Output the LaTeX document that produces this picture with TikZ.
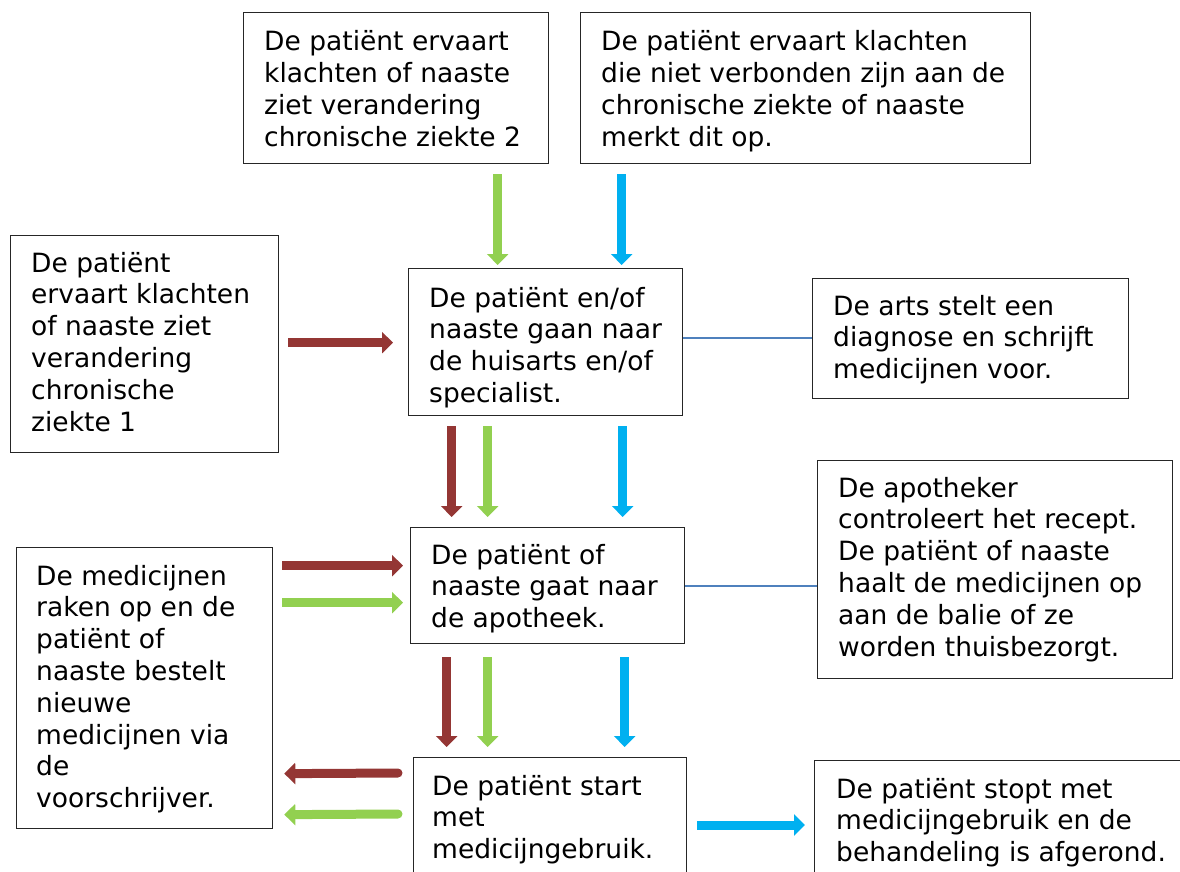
\documentclass[tikz,border=0pt]{standalone}
\usepackage{fontspec}
\setmainfont{DejaVu Sans}
\usetikzlibrary{arrows.meta,calc}
\definecolor{cred}{HTML}{943634}
\definecolor{cgreen}{HTML}{92D050}
\definecolor{cblue}{HTML}{00B0F0}
\definecolor{cline}{HTML}{4F81BD}
\newcommand\btxt[4]{\node[txt] (#1) at (#2,#3) {\parbox[t]{20cm}{\raggedright #4}};}
\begin{document}
\begin{tikzpicture}[x=1pt,y=-1pt,
  frame/.style={draw=black!85,line width=1.3pt,anchor=north west,inner sep=0,rectangle},
  txt/.style={anchor=base west,inner sep=0,font=\fontsize{26.5}{31.8}\selectfont},
  blk/.style={line width=9pt,-{Triangle[width=21pt,length=11pt]}},
  redarr/.style={blk,cred},
  grnarr/.style={blk,cgreen},
  bluarr/.style={blk,cblue},
  conn/.style={draw=cline,line width=2.2pt}]
\useasboundingbox (0,0) rectangle (1180,872);
\clip (0,0) rectangle (1180,872);
% boxes
\node[frame,minimum width=305pt,minimum height=151pt] (A) at (243,12) {};
\node[frame,minimum width=450pt,minimum height=151pt] (B) at (580,12) {};
\node[frame,minimum width=268pt,minimum height=217pt] (C) at (10,235) {};
\node[frame,minimum width=274pt,minimum height=147pt] (D) at (408,268) {};
\node[frame,minimum width=316pt,minimum height=120pt] (E) at (812,278) {};
\node[frame,minimum width=256pt,minimum height=281pt] (F) at (16,547) {};
\node[frame,minimum width=274pt,minimum height=116pt] (G) at (410,527) {};
\node[frame,minimum width=355pt,minimum height=218pt] (H) at (817,460) {};
\node[frame,minimum width=273pt,minimum height=143pt] (I) at (413,757) {};
\node[frame,minimum width=380pt,minimum height=140pt] (J) at (814,760) {};
% texts
\btxt{tA}{264}{51}{De patiënt ervaart\\klachten of naaste\\ziet verandering\\chronische ziekte 2}
\btxt{tB}{601}{51}{De patiënt ervaart klachten\\die niet verbonden zijn aan de\\chronische ziekte of naaste\\merkt dit op.}
\btxt{tC}{31}{272}{De patiënt\\ervaart klachten\\of naaste ziet\\verandering\\chronische\\ziekte 1}
\btxt{tD}{429}{307}{De patiënt en/of\\naaste gaan naar\\de huisarts en/of\\specialist.}
\btxt{tE}{833}{315}{De arts stelt een\\diagnose en schrijft\\medicijnen voor.}
\btxt{tF}{36}{585}{De medicijnen\\raken op en de\\patiënt of\\naaste bestelt\\nieuwe\\medicijnen via\\de\\voorschrijver.}
\btxt{tG}{431}{564}{De patiënt of\\naaste gaat naar\\de apotheek.}
\btxt{tH}{838}{497}{De apotheker\\controleert het recept.\\De patiënt of naaste\\haalt de medicijnen op\\aan de balie of ze\\worden thuisbezorgt.}
\btxt{tI}{432}{795}{De patiënt start\\met\\medicijngebruik.}
\btxt{tJ}{836}{798}{De patiënt stopt met\\medicijngebruik en de\\behandeling is afgerond.}
% plain connectors
\draw[conn] ($(D.east)+(0,-4.5)$) -- ($(E.west)+(0,-1)$);
\draw[conn] (G.east) -- ($(H.west)+(0,16)$);
% arrows into D
\draw[grnarr] ($(A.south)+(101.5,10)$) -- ($(D.north)+(-48,-3)$);
\draw[bluarr] ($(B.south)+(-184,10)$) -- ($(D.north)+(76,-3)$);
\draw[redarr] ($(C.east)+(9,-1.5)$) -- ($(D.west)+(-15,0.5)$);
% D to G
\draw[redarr] ($(D.south)+(-94,10)$) -- ($(G.north)+(-96,-10)$);
\draw[grnarr] ($(D.south)+(-58,10)$) -- ($(G.north)+(-60,-10)$);
\draw[bluarr] ($(D.south)+(77,10)$) -- ($(G.north)+(75,-10)$);
% F to G
\draw[redarr] ($(F.east)+(9,-122.5)$) -- ($(G.west)+(-7,-20)$);
\draw[grnarr] ($(F.east)+(9,-85.5)$) -- ($(G.west)+(-7,17)$);
% G to I
\draw[redarr] ($(G.south)+(-101,13)$) -- ($(I.north)+(-103.5,-10)$);
\draw[grnarr] ($(G.south)+(-60,13)$) -- ($(I.north)+(-62.5,-10)$);
\draw[bluarr] ($(G.south)+(77,13)$) -- ($(I.north)+(74.5,-10)$);
% I to F
\draw[redarr,line cap=round] ($(I.north west)+(-15,16)$) -- ($(F.east)+(11,85.5)$);
\draw[grnarr,line cap=round] ($(I.north west)+(-15,57)$) -- ($(F.east)+(11,126.5)$);
% I to J
\draw[bluarr] ($(I.north east)+(10,68)$) -- ($(J.north west)+(-9,65)$);
\end{tikzpicture}
\end{document}
